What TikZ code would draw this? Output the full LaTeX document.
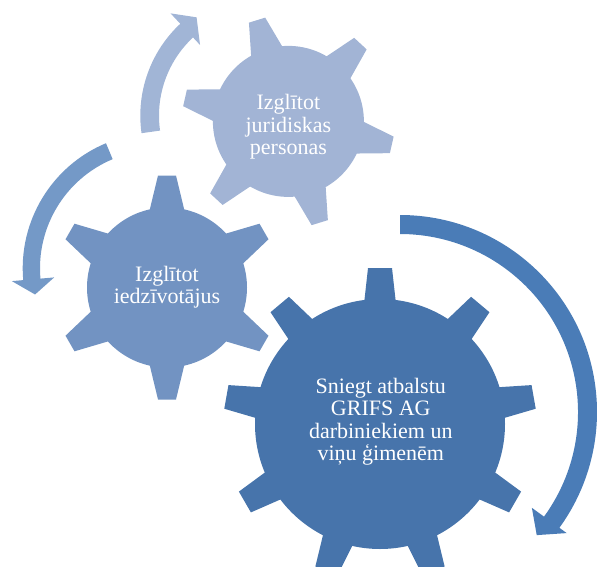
\documentclass[tikz,border=0pt]{standalone}
\usepackage{fontspec}
\setmainfont{Liberation Serif}
\definecolor{gearTop}{HTML}{A2B4D5}
\definecolor{gearMid}{HTML}{7293C2}
\definecolor{gearBig}{HTML}{4774AB}
\definecolor{arrTop}{HTML}{A1B5D6}
\definecolor{arrMid}{HTML}{7499C7}
\definecolor{arrBig}{HTML}{4A7CB7}
% #1 cx, #2 cy, #3 teeth, #4 rotation, #5 outer R, #6 body r, #7 tip half width, #8 base half width, #9 colour
\newcommand\mygear[9]{%
  \begin{scope}[shift={(#1,#2)}]
    \fill[#9] (0,0) circle[radius=#6pt];
    \foreach \k in {1,...,#3}{
      \fill[#9, rotate={#4+\k*360/#3}] ({0.96*#6},-#8) -- (#5,-#7) -- (#5,#7) -- ({0.96*#6},#8) -- cycle;
    }
  \end{scope}}
\tikzset{lbl/.style={text=white, align=center, inner sep=0pt, font=\fontsize{22}{22.5}\selectfont}}
\begin{document}
\begin{tikzpicture}[x=1pt,y=1pt]
\useasboundingbox (0,0) rectangle (597,-567);
\clip (0,0) rectangle (597,-567);
% gears
\mygear{288.4}{-121.4}{6}{47.2}{106}{75.5}{8.5}{16.5}{gearTop}
\mygear{167}{-287.5}{6}{30}{112}{80}{9}{17.5}{gearMid}
\mygear{380}{-424}{9}{90}{156}{125}{12}{16}{gearBig}
% top arrow
\begin{scope}[shift={(266,-115.7)}]
  \fill[arrTop] (188:125.7pt) arc[start angle=188, end angle=133, radius=125.7pt]
    -- (133:139.9pt) -- (125.2:120.4pt) -- (133:96.7pt) -- (133:107pt)
    arc[start angle=133, end angle=188, radius=107pt] -- cycle;
\end{scope}
% middle arrow
\begin{scope}[shift={(158.3,-268.3)}]
  \fill[arrMid] (112.7:135.6pt) arc[start angle=112.7, end angle=185, radius=135.6pt]
    -- (185:147pt) -- (192:126pt) -- (185:104.5pt) -- (185:118.3pt)
    arc[start angle=185, end angle=112.7, radius=118.3pt] -- cycle;
\end{scope}
% big arrow
\begin{scope}[shift={(400,-412)}]
  \fill[arrBig] (90:197pt) arc[start angle=90, end angle=-36, radius=197pt]
    -- (-36:206pt) -- (-42:184pt) -- (-36:163pt) -- (-36:178pt)
    arc[start angle=-36, end angle=90, radius=178pt] -- cycle;
\end{scope}
% labels
\node[lbl] (t1) at (288.4,-126.9) {Izglītot\\juridiskas\\personas};
\node[lbl] (t2) at (167,-287.4) {Izglītot\\iedzīvotājus};
\node[lbl] (t3) at (380.8,-421.7) {Sniegt atbalstu\\GRIFS AG\\darbiniekiem un\\viņu ģimenēm};
\end{tikzpicture}
\end{document}
